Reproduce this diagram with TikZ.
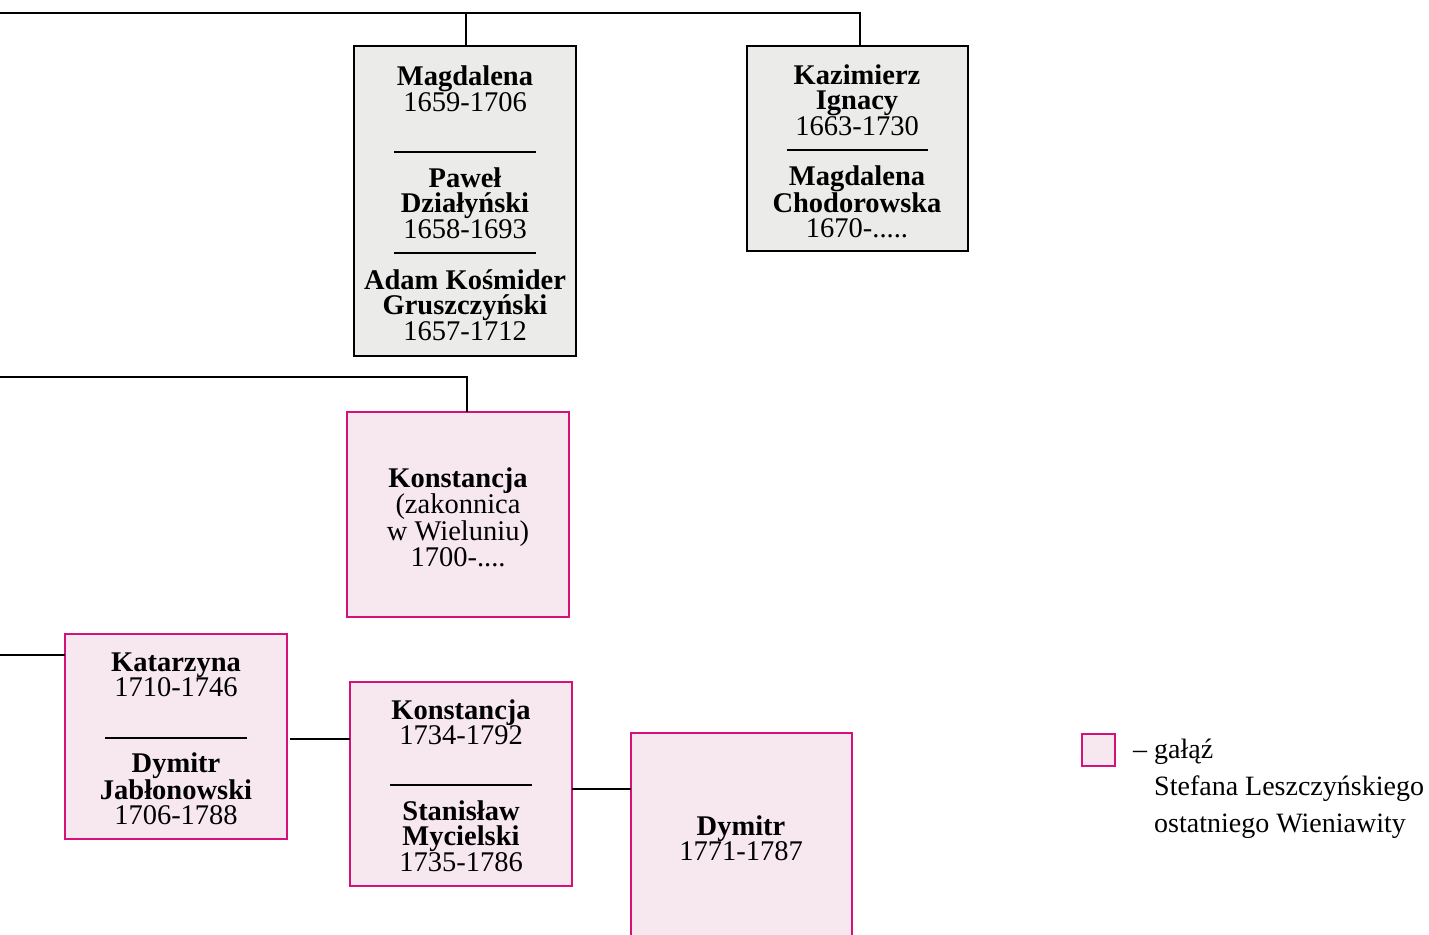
\documentclass[tikz,border=0pt]{standalone}
\usepackage{fontspec}
\setmainfont{Liberation Serif}
\definecolor{pinkline}{HTML}{D4127A}
\definecolor{pinkfill}{HTML}{F7E8EF}
\definecolor{grayfill}{HTML}{EBECEA}
\tikzset{
  person/.style={draw, line width=1.8pt, anchor=north west, inner sep=0pt, outer sep=0pt},
  graybox/.style={person, draw=black, fill=grayfill},
  pinkbox/.style={person, draw=pinkline, fill=pinkfill},
  txt/.style={align=center, inner sep=0pt, font=\fontsize{28.5}{25.5}\selectfont},
  sep/.style={line width=1.2pt},
  conn/.style={line width=1.9pt},
  legtxt/.style={align=left, inner sep=0pt, font=\fontsize{28}{37}\selectfont}
}
\begin{document}
\begin{tikzpicture}[x=1pt,y=-1pt]
\useasboundingbox (0,0) rectangle (1429,934);
% boxes
\node[graybox, minimum width=222pt, minimum height=310pt] (mag) at (354,46) {};
\node[graybox, minimum width=221pt, minimum height=205pt] (kaz) at (747,46) {};
\node[pinkbox, minimum width=222pt, minimum height=205pt] (kon) at (347,412) {};
\node[pinkbox, minimum width=222pt, minimum height=205pt] (kat) at (65,634) {};
\node[pinkbox, minimum width=222pt, minimum height=204pt] (kon2) at (350,682) {};
\node[pinkbox, minimum width=221pt, minimum height=220pt] (dym) at (631,733) {};
% connectors
\coordinate (t0) at (0,13);
\coordinate (t1) at (0,377);
\coordinate (t2) at (0,655);
\draw[conn] (t0) -| ([xshift=2.5pt]kaz.north);
\draw[conn] ([xshift=1pt]mag.north) -- ([xshift=1pt]mag.north |- t0);
\draw[conn] (t1) -| ([xshift=9pt]kon.north);
\draw[conn] (t2) -- (t2 -| kat.west);
\draw[conn] ([xshift=3pt,yshift=-2.5pt]kat.east) -- ([yshift=-2.5pt]kat.east -| kon2.west);
\draw[conn] ([yshift=-5pt]kon2.east) -- ([yshift=-5pt]kon2.east -| dym.west);
% separators
\draw[sep] (394,152) -- (536,152);
\draw[sep] (394,253) -- (536,253);
\draw[sep] (787,150) -- (928,150);
\draw[sep] (105,738) -- (247,738);
\draw[sep] (390,785) -- (532,785);
% texts
\node[txt] (m1) at (465,89) {\textbf{Magdalena}\\1659-1706};
\node[txt] (m2) at (465,203) {\textbf{Paweł}\\\textbf{Działyński}\\1658-1693};
\node[txt] (m3) at (465,305) {\textbf{Adam Kośmider}\\\textbf{Gruszczyński}\\1657-1712};
\node[txt] (k1) at (857,100) {\textbf{Kazimierz}\\\textbf{Ignacy}\\1663-1730};
\node[txt] (k2) at (857,202) {\textbf{Magdalena}\\\textbf{Chodorowska}\\1670-.....};
\node[txt] (c1) at (458,517) {\textbf{Konstancja}\\(zakonnica\\w Wieluniu)\\1700-....};
\node[txt] (a1) at (176,675) {\textbf{Katarzyna}\\1710-1746};
\node[txt] (a2) at (176,789) {\textbf{Dymitr}\\\textbf{Jabłonowski}\\1706-1788};
\node[txt] (s1) at (461,722) {\textbf{Konstancja}\\1734-1792};
\node[txt] (s2) at (461,836) {\textbf{Stanisław}\\\textbf{Mycielski}\\1735-1786};
\node[txt] (d1) at (741,838) {\textbf{Dymitr}\\1771-1787};
% legend
\node[pinkbox, minimum width=33pt, minimum height=32pt] (leg) at (1082,734) {};
\node[legtxt, anchor=base west] (l1) at (1133,758) {– gałąź};
\node[legtxt, anchor=base west] (l2) at (1154,795) {Stefana Leszczyńskiego};
\node[legtxt, anchor=base west] (l3) at (1154,832) {ostatniego Wieniawity};
\end{tikzpicture}
\end{document}
